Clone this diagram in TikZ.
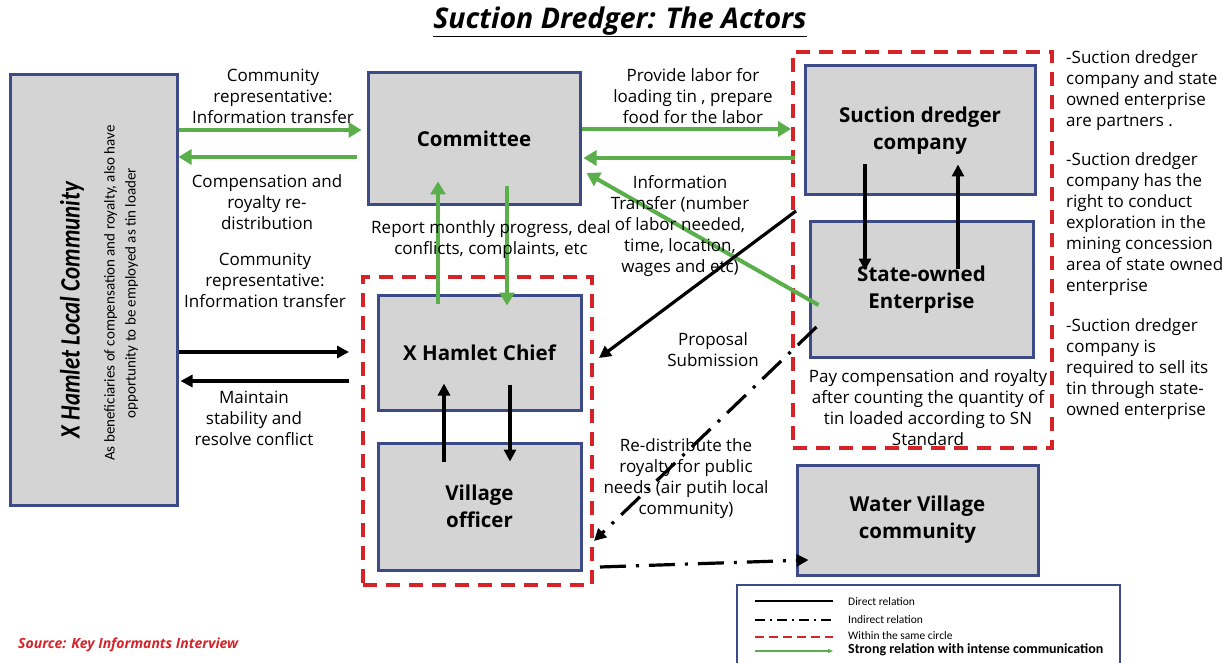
\documentclass[tikz,border=0pt]{standalone}
\usepackage{fontspec}
\setmainfont{Open Sans}
\newfontfamily\calib{Carlito}
\newfontfamily\calibc[FakeStretch=0.82]{Carlito}
\usetikzlibrary{arrows.meta,calc}
\definecolor{boxblue}{RGB}{60,75,135}
\definecolor{boxgray}{RGB}{212,212,212}
\definecolor{grn}{RGB}{90,175,75}
\definecolor{rd}{RGB}{215,35,40}
\begin{document}
\begin{tikzpicture}[x=1pt,y=-1pt,
 actor/.style={draw=boxblue,fill=boxgray,line width=3pt,inner sep=0pt,align=center,font=\fontsize{20.5}{27}\selectfont\bfseries},
 grp/.style={draw=rd,line width=4pt,dash pattern=on 14pt off 9pt,inner sep=0pt},
 lbl/.style={align=center,font=\fontsize{17}{21}\selectfont,inner sep=0pt},
 side/.style={align=left,anchor=west,font=\fontsize{17}{21}\selectfont,inner sep=0pt},
 garrow/.style={draw=grn,line width=4pt,-{Triangle[length=13pt,width=15pt]}},
 barrow/.style={draw=black,line width=3.2pt,-{Triangle[length=12pt,width=12pt]}},
 darrow/.style={draw=black,line width=3.2pt,dash pattern=on 26pt off 10pt on 3pt off 10pt,-{Triangle[length=12pt,width=12pt]}},
 legtxt/.style={anchor=west,inner sep=0pt,font=\calib\fontsize{11.5}{13}\selectfont}]
\useasboundingbox[fill=white] (0,0) rectangle (1229,663);

% title
\node[font=\bfseries\itshape\fontsize{28.5}{32}\selectfont] (title) at (620,22) {\underline{Suction Dredger: The Actors}};

% group boxes
\node[grp,minimum width=259pt,minimum height=396pt] (grp1) at (922.5,250) {};
\node[grp,minimum width=229pt,minimum height=308pt] (grp2) at (477.5,431) {};

% actors
\node[actor,minimum width=167pt,minimum height=430pt] (xc) at (93.5,290) {};
\node[rotate=90,font=\calibc\bfseries\itshape\fontsize{28}{30}\selectfont] (xct) at (72,310) {X Hamlet Local Community};
\node[rotate=90,align=center,font=\calib\fontsize{15}{21}\selectfont] (xcs) at (121,293) {As beneficiaries of compensation and royalty, also have\\opportunity to be employed as tin loader};
\node[actor,minimum width=212pt,minimum height=132pt] (cm) at (474,139) {Committee};
\node[actor,minimum width=230pt,minimum height=129pt] (sd) at (920,130.5) {Suction dredger\\company};
\node[actor,minimum width=223pt,minimum height=135pt] (soe) at (921.5,289.5) {State-owned\\Enterprise};
\node[actor,minimum width=203pt,minimum height=115pt] (ch) at (479.5,352.5) {X Hamlet Chief};
\node[actor,minimum width=203pt,minimum height=127pt] (vo) at (479.5,506.5) {Village\\officer};
\node[actor,minimum width=241pt,minimum height=110pt] (wv) at (917.5,520) {Water Village\\community};

% arrows: community <-> committee
\draw[garrow,shorten >=5pt] (xc.east |- 0,130) -- (cm.west |- 0,130);
\draw[garrow] ($(cm.west |- 0,157)+(-10,0)$) -- (xc.east |- 0,157);
% community <-> chief
\draw[barrow,shorten >=12pt] (xc.east |- 0,352) -- (grp2.west |- 0,352);
\draw[barrow] ($(grp2.west |- 0,381)+(-12,0)$) -- ($(xc.east |- 0,381)+(2,0)$);
% committee <-> dredger
\draw[garrow] (cm.east |- 0,129) -- (grp1.west |- 0,129);
\draw[garrow] ($(grp1.west |- 0,158)+(4,0)$) -- ($(cm.east |- 0,158)+(2,0)$);
\draw[garrow] ($(soe.west)+(10,15.5)$) -- ($(cm.east)+(5,34)$);
% committee <-> chief
\draw[garrow] ($(ch.north -| 438,0)+(0,10)$) -- ($(cm.south -| 438,0)+(0,-25)$);
\draw[garrow] ($(cm.south -| 507,0)+(0,-20)$) -- ($(ch.north -| 507,0)+(0,12)$);
% proposal submission
\draw[barrow] ($(grp1.west |- 0,211)+(5,0)$) -- ($(grp2.east |- 0,358)+(5,0)$);
% indirect
\draw[darrow] ($(soe.west)+(8,37.5)$) -- (grp2.east |- 0,541);
\draw[darrow] ($(grp2.east |- 0,567)+(6,0)$) -- ($(wv.west)+(13,40)$);
% inside dredger group
\draw[barrow] ($(sd.south -| 865,0)+(0,-32)$) -- ($(soe.north -| 865,0)+(0,50)$);
\draw[barrow] ($(soe.north -| 958,0)+(0,48)$) -- ($(sd.south -| 958,0)+(0,-32)$);
% inside hamlet group
\draw[barrow] ($(vo.north -| 444,0)+(0,20)$) -- ($(ch.south -| 444,0)+(0,-28)$);
\draw[barrow] ($(ch.south -| 510,0)+(0,-27)$) -- ($(vo.north -| 510,0)+(0,20)$);

% labels
\node[lbl] (l1) at (273,96) {Community\\representative:\\Information transfer};
\node[lbl] (l2) at (267,202) {Compensation and\\royalty re-\\distribution};
\node[lbl] (l3) at (265,280) {Community\\representative:\\Information transfer};
\node[lbl] (l4) at (254,418) {Maintain\\stability and\\resolve conflict};
\node[lbl] (l5) at (693,96) {Provide labor for\\loading tin , prepare\\food for the labor};
\node[lbl] (l6) at (680,226) {Information\\Transfer (number\\of labor needed,\\time, location,\\wages and etc)};
\node[lbl] (l7) at (491,240) {Report monthly progress, deal\\conflicts, complaints, etc};
\node[lbl] (l8) at (713,350) {Proposal\\Submission};
\node[lbl] (l9) at (686,479) {Re-distribute the\\royalty for public\\needs (air putih local\\community)};
\node[lbl] (l10) at (928,408) {Pay compensation and royalty\\after counting the quantity of\\tin loaded according to SN\\Standard};

% side notes
\node[side] (n1) at (1066,90.5) {-Suction dredger\\company and state\\owned enterprise\\are partners .};
\node[side] (n2) at (1066,224) {-Suction dredger\\company has the\\right to conduct\\exploration in the\\mining concession\\area of state owned\\enterprise};
\node[side] (n3) at (1066,369) {-Suction dredger\\company is\\required to sell its\\tin through state-\\owned enterprise};

% legend
\draw[boxblue,line width=2.5pt] (737,585) rectangle (1120,672);
\coordinate (la1) at (755,601); \coordinate (lb1) at (833,601);
\coordinate (la2) at (755,620); \coordinate (lb2) at (833,620);
\coordinate (la3) at (755,637); \coordinate (lb3) at (833,637);
\coordinate (la4) at (755,651); \coordinate (lb4) at (833,651);
\draw[black,line width=2.2pt] (la1) -- (lb1);
\draw[black,line width=2.2pt,dash pattern=on 10pt off 5pt on 2pt off 5pt] (la2) -- (lb2);
\draw[rd,line width=2.2pt,dash pattern=on 9pt off 5pt] (la3) -- (lb3);
\draw[grn,line width=1.4pt,-{Triangle[length=5pt,width=4pt]}] (la4) -- (lb4);
\node[legtxt] (t1) at (848,602) {Direct relation};
\node[legtxt] (t2) at (848,620) {Indirect relation};
\node[legtxt] (t3) at (848,636) {Within the same circle};
\node[legtxt,font=\calib\bfseries\fontsize{14}{15}\selectfont] (t4) at (848,650) {Strong relation with intense communication};

% source
\node[anchor=west,inner sep=0pt,text=rd,font=\bfseries\itshape\fontsize{14}{16}\selectfont] (src) at (18,645) {Source: Key Informants Interview};
\end{tikzpicture}
\end{document}
